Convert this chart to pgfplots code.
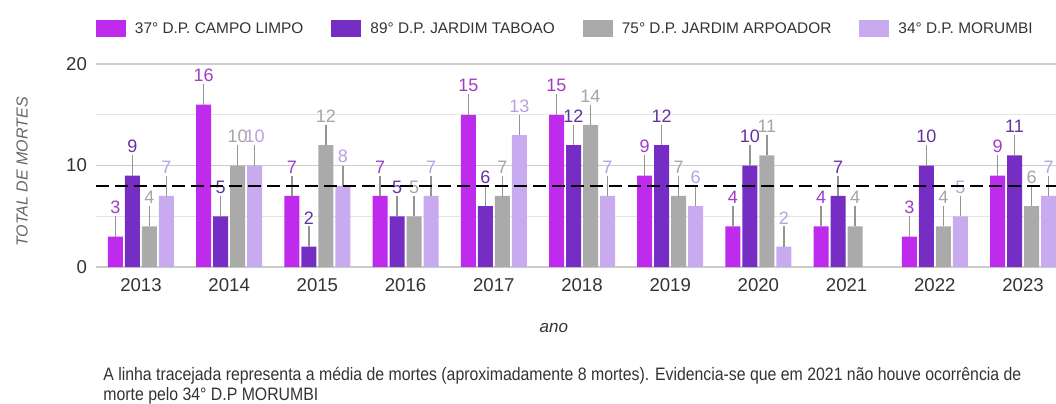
\documentclass[border=0pt]{standalone}
\usepackage{pgfplots}
\pgfplotsset{compat=1.18}
\usepackage{fontspec}
\setmainfont{Liberation Sans}
\usepackage{graphicx}

\definecolor{cA}{RGB}{191,43,236}
\definecolor{cB}{RGB}{117,45,195}
\definecolor{cC}{RGB}{170,170,170}
\definecolor{cD}{RGB}{200,170,238}
\definecolor{lA}{RGB}{160,60,200}
\definecolor{lB}{RGB}{100,50,160}
\definecolor{lC}{RGB}{165,165,165}
\definecolor{lD}{RGB}{185,160,225}
\definecolor{txt}{RGB}{51,51,51}

\pgfplotsset{frame/.style={
    at={(0,0)}, anchor=south west,
    scale only axis,
    width=480pt, height=101.5pt,
    xmin=-0.51, xmax=10.374,
    ymin=0, ymax=20}}

\begin{document}
\begin{tikzpicture}
\useasboundingbox (-48pt,-68pt) rectangle (480pt,133.5pt);
\begin{axis}[
    frame,
    ybar=1pt, bar width=7.5pt,
    xtick={0,...,10},
    xticklabels={2013,2014,2015,2016,2017,2018,2019,2020,2021,2022,2023},
    ytick={0,10,20},
    minor ytick={5,15},
    ymajorgrids, yminorgrids,
    major grid style={color=black!20, line width=0.6pt},
    minor grid style={color=black!10, line width=0.6pt},
    extra y ticks={0},
    extra y tick labels={},
    extra y tick style={grid style={color=black!85, line width=1.1pt}},
    axis line style={draw=none},
    major tick length=0pt, minor tick length=0pt,
    tick label style={font=\fontsize{9.3}{11}\selectfont, text=txt},
    /pgf/number format/assume math mode=true,
    xticklabel style={yshift=-2pt},
    yticklabel style={xshift=-1pt},
    ylabel={TOTAL DE MORTES},
    ylabel style={at={(axis description cs:-0.077,0.468)}, anchor=center,
        font=\fontsize{8}{9}\selectfont\itshape, text=black!60},
    xlabel={ano},
    xlabel style={at={(axis description cs:0.477,-0.30)}, anchor=center,
        font=\fontsize{8.5}{10}\selectfont\itshape, text=txt},
    legend columns=4,
    legend style={at={(axis description cs:0,1.1773)}, anchor=west,
        draw=none, fill=none, inner sep=0pt, outer sep=0pt,
        font=\fontsize{7.7}{9}\selectfont, text=txt,
        nodes={inner sep=0pt, text depth=0pt},
        /tikz/every odd column/.append style={column sep=4.5pt},
        /tikz/every even column/.append style={column sep=14pt}},
    legend image code/.code={\fill[#1] (0pt,-4.25pt) rectangle (15pt,4.25pt);},
    nodes near coords,
    point meta=y,
    every node near coord/.append style={font=\fontsize{9}{10}\selectfont,
        inner sep=1pt, anchor=south, yshift=10.15pt},
    error bars/y dir=plus,
    error bars/y fixed=2,
    error bars/error mark=none,
    error bars/error bar style={color=black!42, line width=0.7pt},
]
% 37o D.P. Campo Limpo
\addplot[fill=cA, draw=none, every node near coord/.append style={text=lA}]
    coordinates {(0,3) (1,16) (2,7) (3,7) (4,15) (5,15) (6,9) (7,4) (8,4) (9,3) (10,9)};
\addlegendentry{37° D.P. CAMPO LIMPO}
% 89o D.P. Jardim Taboao
\addplot[fill=cB, draw=none, every node near coord/.append style={text=lB}]
    coordinates {(0,9) (1,5) (2,2) (3,5) (4,6) (5,12) (6,12) (7,10) (8,7) (9,10) (10,11)};
\addlegendentry{89° D.P. JARDIM TABOAO}
% 75o D.P. Jardim Arpoador
\addplot[fill=cC, draw=none, every node near coord/.append style={text=lC}]
    coordinates {(0,4) (1,10) (2,12) (3,5) (4,7) (5,14) (6,7) (7,11) (8,4) (9,4) (10,6)};
\addlegendentry{75° D.P. JARDIM ARPOADOR}
% 34o D.P. Morumbi (sem ocorrencia em 2021)
\addplot[fill=cD, draw=none, every node near coord/.append style={text=lD}]
    coordinates {(0,7) (1,10) (2,8) (3,7) (4,13) (5,7) (6,6) (7,2) (9,5) (10,7)};
\addlegendentry{34° D.P. MORUMBI}
\end{axis}
% media (aprox. 8 mortes)
\begin{axis}[frame, hide axis]
\addplot[black, line width=1.2pt, dash pattern=on 6.5pt off 3pt, no marks]
    coordinates {(-0.51,8) (10.374,8)};
\end{axis}
\node[anchor=base west, inner sep=0pt, text=txt, font=\fontsize{9}{10}\selectfont]
    at (3.5pt,-56.5pt) {\scalebox{0.88}[1]{A linha tracejada representa a média de mortes (aproximadamente 8 mortes). Evidencia-se que em 2021 não houve ocorrência de}};
\node[anchor=base west, inner sep=0pt, text=txt, font=\fontsize{9}{10}\selectfont]
    at (3.5pt,-66.8pt) {\scalebox{0.88}[1]{morte pelo 34° D.P MORUMBI}};
\end{tikzpicture}
\end{document}
